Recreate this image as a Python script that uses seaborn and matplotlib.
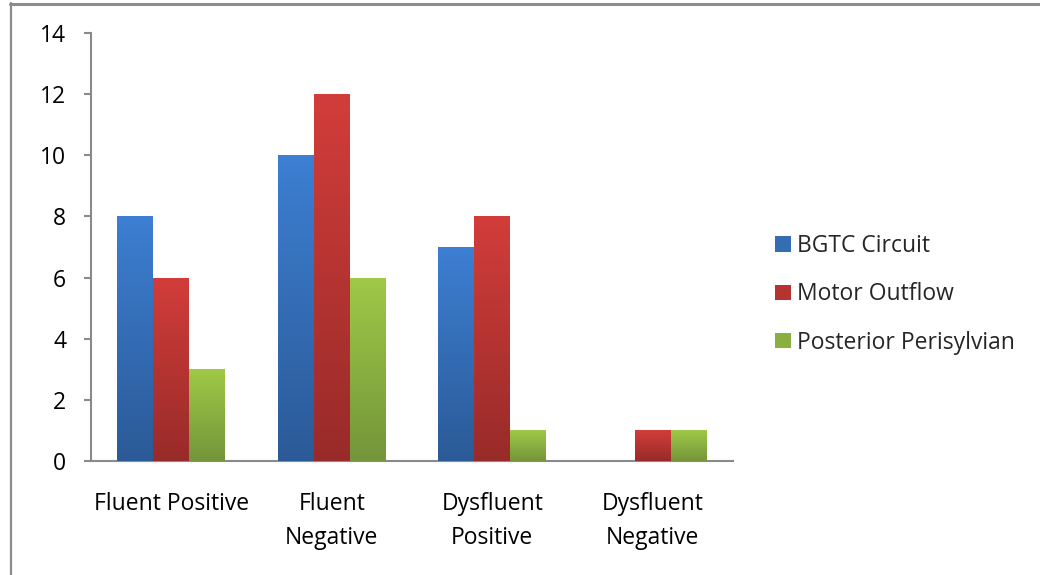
import numpy as np
import pandas as pd
import matplotlib
matplotlib.use("Agg")
import matplotlib.pyplot as plt
from matplotlib.lines import Line2D
from matplotlib.patches import Rectangle
from matplotlib.colors import to_rgb
import seaborn as sns

# ---- data ----
categories = ["Fluent Positive", "Fluent\nNegative", "Dysfluent\nPositive", "Dysfluent\nNegative"]
series = ["BGTC Circuit", "Motor Outflow", "Posterior Perisylvian"]
bgtc_circuit = [8, 10, 7, 0]
motor_outflow = [6, 12, 8, 1]
posterior_perisylvian = [3, 6, 1, 1]
y_ticks = [0, 2, 4, 6, 8, 10, 12, 14]

# top / bottom shades of each series' gradient fill
top_colors = ["#3d7fd2", "#d23d3a", "#9fc947"]
bottom_colors = ["#2b5a97", "#982b29", "#74953a"]

df = pd.DataFrame({
    "category": categories * 3,
    "series": [series[0]] * 4 + [series[1]] * 4 + [series[2]] * 4,
    "value": bgtc_circuit + motor_outflow + posterior_perisylvian,
})

sns.set_style("white")
plt.rcParams["font.family"] = ["Open Sans", "DejaVu Sans"]
FS = 16.5

fig = plt.figure(figsize=(10.4, 5.75), dpi=100)
ax = fig.add_axes([91 / 1040, 1 - 461 / 575, 642 / 1040, 428 / 575])

mid_colors = [tuple((np.array(to_rgb(t)) + np.array(to_rgb(b))) / 2)
              for t, b in zip(top_colors, bottom_colors)]
sns.barplot(data=df, x="category", y="value", hue="series", order=categories,
            hue_order=series, palette=mid_colors, width=0.67, gap=0,
            saturation=1, ax=ax, legend=True, edgecolor="none")

# vertical gradient inside each bar
for patch in ax.patches:
    h = patch.get_height()
    if h <= 0 or patch.get_width() <= 0:
        continue
    fc = patch.get_facecolor()[:3]
    idx = int(np.argmin([np.sum((np.array(fc) - np.array(m)) ** 2) for m in mid_colors]))
    top = np.array(to_rgb(top_colors[idx]))
    bot = np.array(to_rgb(bottom_colors[idx]))
    t = np.linspace(0, 1, 256)[:, None, None]
    grad = top[None, None, :] * (1 - t) + bot[None, None, :] * t
    x0 = patch.get_x()
    im = ax.imshow(grad, extent=[x0, x0 + patch.get_width(), patch.get_y(), patch.get_y() + h],
                   origin="upper", aspect="auto", interpolation="bilinear", zorder=3)
    im.set_clip_path(patch)

ax.set_xlim(-0.5, 3.5)
ax.set_ylim(0, 14)
ax.set_yticks(y_ticks)
ax.set_yticklabels([str(v) for v in y_ticks])
ax.set_xlabel("")
ax.set_ylabel("")

# category labels on major ticks, boundary marks on minor ticks
ax.set_xticks(range(len(categories)))
ax.set_xticklabels(categories, linespacing=1.6)
ax.set_xticks(np.arange(-0.5, 4.0, 1.0), minor=True)
ax.tick_params(axis="x", which="major", length=0, pad=22, labelsize=FS, colors="black")
ax.tick_params(axis="x", which="minor", length=5, width=1.5, color="#8a8a8a", direction="out")
ax.tick_params(axis="y", which="major", length=5, width=1.5, color="#8a8a8a",
               direction="out", pad=13, labelsize=FS, labelcolor="black", left=True)

for side in ["top", "right"]:
    ax.spines[side].set_visible(False)
for side in ["left", "bottom"]:
    ax.spines[side].set_color("#8a8a8a")
    ax.spines[side].set_linewidth(1.5)
ax.grid(False)

# legend
ax.get_legend().remove()
leg_handles = [Rectangle((0, 0), 1, 1, facecolor=c, edgecolor="none") for c in mid_colors]
fig.legend(leg_handles, series, loc="center left",
           bbox_to_anchor=(775 / 1040, 1 - 294.5 / 575), frameon=False, fontsize=FS,
           borderpad=0, borderaxespad=0, handlelength=0.7, handleheight=0.66,
           handletextpad=0.26, labelspacing=1.06)

# chart-area border (left and top edges)
fig.add_artist(Line2D([10.5 / 1040, 10.5 / 1040], [0, 1 - 3 / 575],
                      transform=fig.transFigure, color="#8c8c8c", lw=1.6))
fig.add_artist(Line2D([10 / 1040, 1], [1 - 3.5 / 575, 1 - 3.5 / 575],
                      transform=fig.transFigure, color="#8c8c8c", lw=2.2))

fig.savefig("out.png", dpi=100)
